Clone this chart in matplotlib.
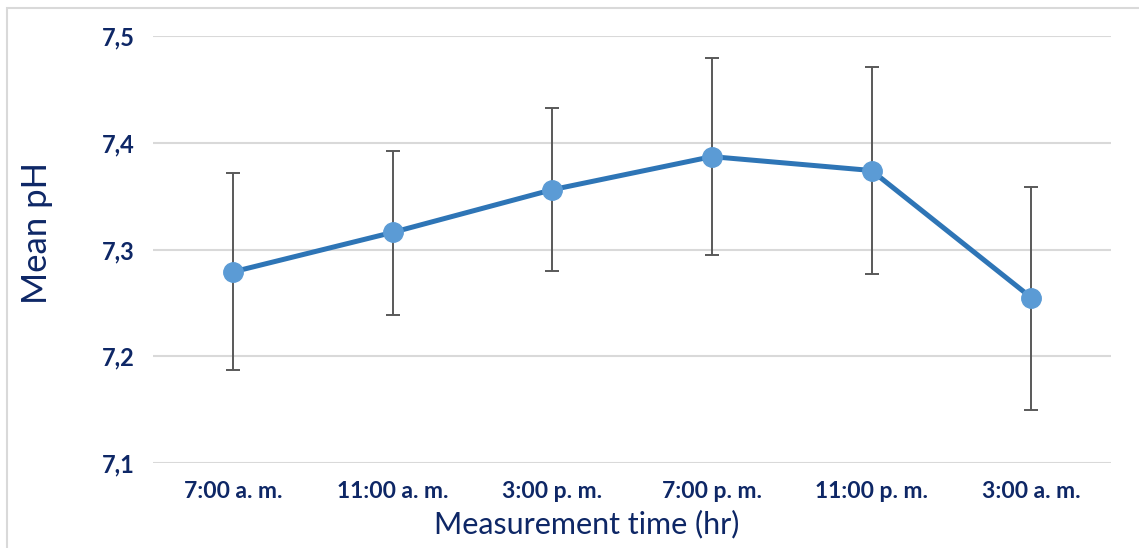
import matplotlib.pyplot as plt
from matplotlib.patches import Rectangle

# data
times = ["7:00 a. m.", "11:00 a. m.", "3:00 p. m.", "7:00 p. m.", "11:00 p. m.", "3:00 a. m."]
mean_ph = [7.279, 7.316, 7.356, 7.387, 7.374, 7.255]
upper = [7.372, 7.392, 7.433, 7.479, 7.471, 7.359]
lower = [7.187, 7.239, 7.280, 7.295, 7.277, 7.150]
y_ticks = [7.1, 7.2, 7.3, 7.4, 7.5]

navy = "#0E2766"
err_lo = [m - l for m, l in zip(mean_ph, lower)]
err_hi = [u - m for m, u in zip(mean_ph, upper)]

fig = plt.figure(figsize=(11.39, 5.48), dpi=100)
ax = fig.add_axes([153 / 1139, 1 - 463 / 548, (1111 - 153) / 1139, (463 - 36) / 548])

x = list(range(len(times)))
ax.errorbar(x, mean_ph, yerr=[err_lo, err_hi], fmt="none", ecolor="#595959",
            elinewidth=1.4, capsize=5, capthick=1.4, zorder=2)
ax.plot(x, mean_ph, color="#2E75B6", lw=3.6, zorder=3)
ax.plot(x, mean_ph, "o", color="#5B9BD5", ms=14, zorder=4)

ax.set_xlim(-0.5, len(times) - 0.5)
ax.set_ylim(7.1, 7.5)
ax.set_yticks(y_ticks)
ax.set_yticklabels([f"{v:.1f}".replace(".", ",") for v in y_ticks],
                   fontfamily="Lato", fontweight="bold", fontsize=17, color=navy)
ax.set_xticks(x)
ax.set_xticklabels(times, fontfamily="Lato", fontweight="bold", fontsize=16.5, color=navy)
ax.tick_params(length=0)
ax.tick_params(axis="y", pad=13)
ax.tick_params(axis="x", pad=13)

ax.grid(axis="y", color="#D9D9D9", lw=1.5)
ax.set_axisbelow(True)
for s in ax.spines.values():
    s.set_visible(False)

ax.set_xlabel("Measurement time (hr)", fontfamily="Lato", fontsize=22, color=navy)
ax.set_ylabel("Mean pH", fontfamily="Lato", fontsize=25, color=navy)
ax.xaxis.set_label_coords(0.4525, -0.11)
ax.yaxis.set_label_coords(-0.104, 0.539)

# outer chart border (runs off right and bottom edges)
fig.patches.append(Rectangle((7 / 1139, -0.05), 1.1, 1 - 8 / 548 + 0.05,
                             transform=fig.transFigure, fill=False,
                             edgecolor="#D9D9D9", lw=1.5))

fig.savefig("out.png", dpi=100)
